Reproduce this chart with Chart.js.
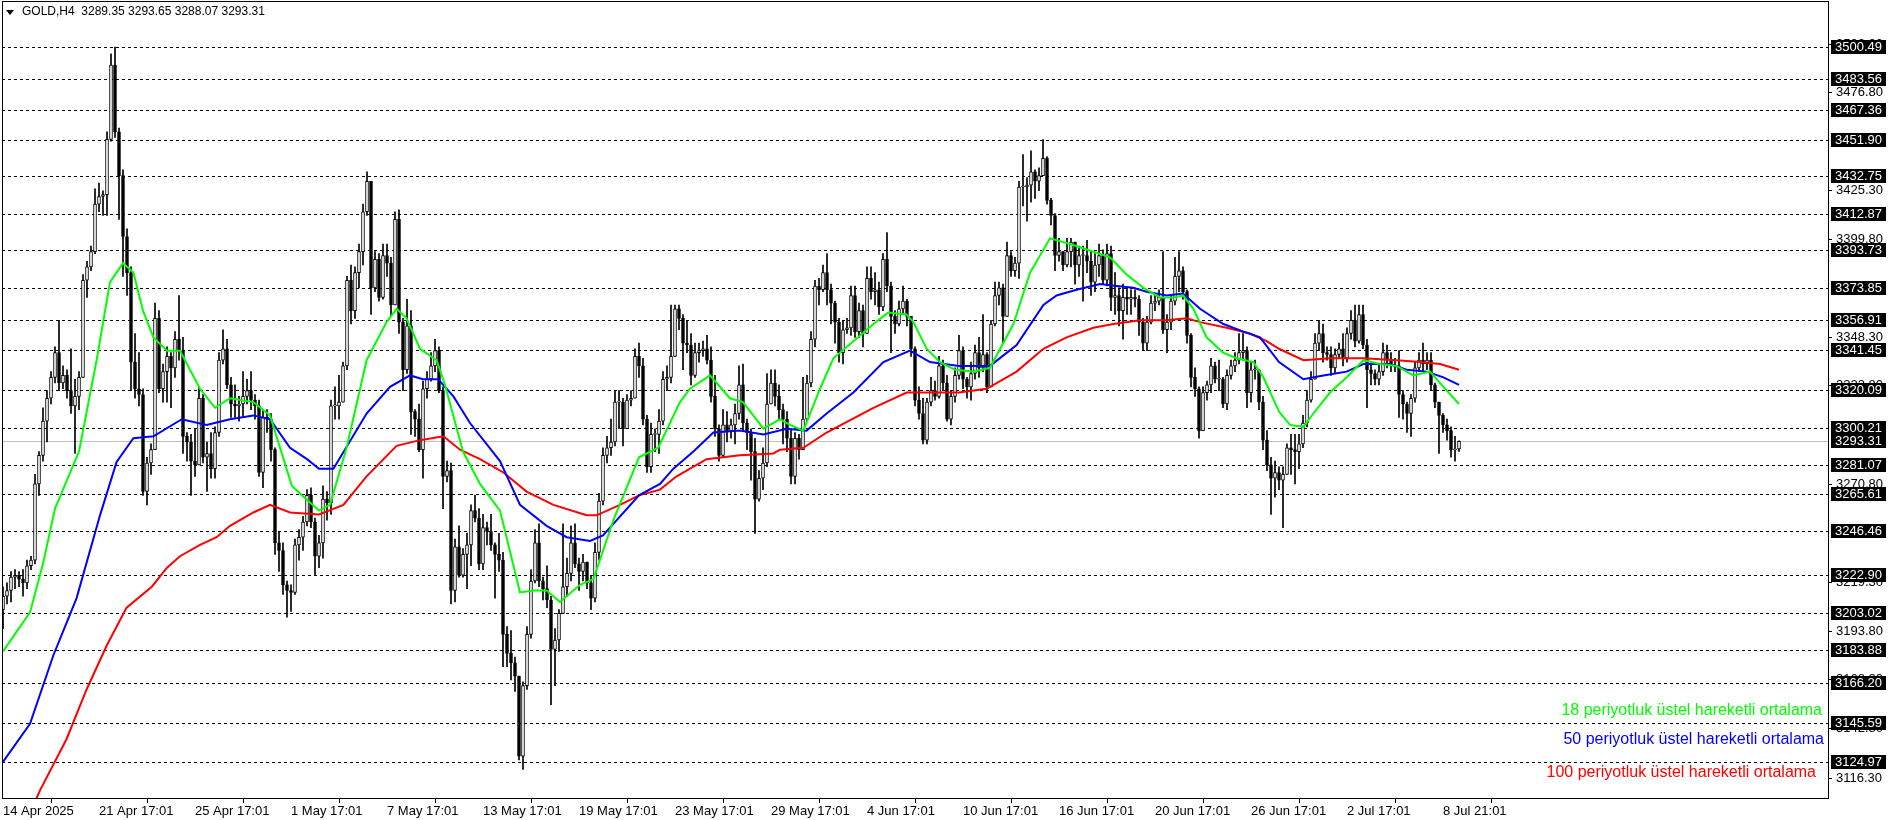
<!DOCTYPE html>
<html>
<head>
<meta charset="utf-8">
<script src="https://cdn.jsdelivr.net/npm/chart.js@4.4.1/dist/chart.umd.min.js"></script>
<style>
  html, body { margin: 0; padding: 0; background: #fff; }
  canvas { display: block; }
</style>
</head>
<body>
<canvas id="theChart" width="1896" height="820"></canvas>
<script>
// GOLD H4 candles (open = previous close)
const firstOpen = 3205;
const closes = [
  3212,3215,3222,3223,3221,3219,3228,3231,3271,3286,
  3304,3316,3327,3340,3324,3328,3320,3312,3317,3327,
  3378,3385,3393,3418,3422,3423,3452,3491,3456,3433,
  3401,3382,3335,3321,3318,3267,3282,3289,3358,3321,
  3330,3338,3332,3347,3341,3296,3293,3283,3281,3316,
  3285,3287,3279,3298,3336,3342,3323,3313,3312,3313,
  3317,3320,3315,3312,3277,3306,3305,3289,3240,3236,
  3218,3215,3214,3239,3243,3251,3265,3251,3233,3240,
  3263,3261,3312,3312,3314,3333,3378,3362,3382,3393,
  3414,3430,3374,3389,3369,3391,3387,3365,3410,3356,
  3331,3354,3309,3305,3289,3321,3326,3333,3341,3320,
  3275,3278,3215,3238,3223,3234,3239,3257,3253,3229,
  3248,3246,3239,3234,3231,3192,3182,3177,3170,3128,
  3165,3192,3220,3240,3220,3216,3210,3184,3189,3203,
  3217,3224,3240,3229,3225,3230,3219,3211,3235,3262,
  3286,3290,3293,3314,3314,3300,3315,3316,3338,3333,
  3305,3280,3297,3297,3304,3326,3327,3338,3363,3358,
  3345,3344,3328,3340,3341,3342,3336,3317,3300,3286,
  3302,3299,3302,3308,3323,3303,3298,3288,3263,3274,
  3282,3313,3324,3317,3310,3305,3295,3275,3295,3289,
  3305,3324,3347,3375,3373,3382,3373,3366,3356,3340,
  3352,3353,3370,3351,3362,3350,3379,3372,3373,3364,
  3389,3375,3359,3355,3363,3367,3359,3342,3315,3308,
  3294,3314,3320,3317,3333,3324,3305,3317,3328,3341,
  3326,3322,3329,3340,3332,3339,3322,3355,3370,3374,
  3359,3391,3383,3387,3427,3427,3428,3435,3430,3433,
  3442,3420,3412,3391,3393,3386,3393,3398,3386,3391,
  3391,3388,3377,3386,3391,3378,3392,3369,3370,3362,
  3369,3368,3369,3368,3356,3345,3356,3366,3367,3369,
  3352,3356,3367,3380,3383,3372,3349,3327,3321,3299,
  3319,3323,3333,3326,3326,3313,3328,3333,3336,3340,
  3341,3319,3331,3331,3314,3294,3281,3274,3277,3273,
  3276,3290,3289,3288,3292,3303,3315,3326,3345,3350,
  3340,3339,3332,3339,3342,3337,3350,3357,3346,3360,
  3344,3331,3329,3326,3330,3340,3336,3333,3333,3318,
  3313,3308,3316,3332,3336,3334,3336,3323,3314,3307,
  3302,3299,3289,3289.35,3293.31
];
const highs = [
  3217,3219,3225,3226,3225,3226,3231,3233,3276,3288,
  3311,3320,3330,3343,3357,3333,3331,3342,3326,3330,
  3381,3388,3396,3426,3429,3425,3456,3497,3500.5,3458,
  3436,3405,3385,3350,3340,3321,3285,3292,3366,3362,
  3334,3343,3340,3351,3370,3348,3298,3297,3300,3322,
  3318,3293,3298,3301,3340,3352,3347,3327,3323,3317,
  3330,3326,3330,3318,3315,3310,3310,3308,3290,3246,
  3240,3220,3218,3242,3247,3254,3268,3269,3253,3244,
  3270,3267,3315,3322,3328,3335,3380,3386,3385,3397,
  3418,3435,3427,3393,3392,3397,3397,3390,3414,3415,
  3358,3368,3362,3310,3313,3325,3330,3340,3347,3343,
  3322,3283,3282,3242,3249,3237,3245,3260,3265,3258,
  3255,3251,3255,3240,3245,3235,3196,3194,3180,3170,
  3167,3196,3226,3247,3250,3222,3228,3212,3195,3205,
  3250,3232,3249,3250,3232,3234,3230,3223,3240,3266,
  3290,3296,3305,3320,3320,3316,3318,3320,3342,3345,
  3337,3307,3303,3300,3310,3330,3333,3365,3365,3365,
  3360,3357,3350,3345,3345,3346,3349,3343,3328,3302,
  3310,3309,3305,3313,3333,3334,3305,3300,3295,3278,
  3290,3329,3331,3331,3323,3313,3309,3300,3298,3297,
  3327,3328,3351,3378,3379,3386,3392,3376,3367,3358,
  3357,3358,3375,3375,3366,3365,3385,3385,3382,3377,
  3392,3403,3377,3362,3367,3375,3368,3358,3343,3322,
  3316,3316,3327,3325,3338,3336,3328,3320,3332,3349,
  3343,3327,3335,3344,3348,3360,3340,3357,3377,3377,
  3376,3398,3393,3390,3430,3444,3432,3446,3436,3437,
  3451.9,3443,3421,3413,3400,3393,3400,3400,3394,3396,
  3396,3399,3393,3392,3397,3394,3397,3396,3382,3374,
  3376,3374,3373,3373,3370,3358,3359,3370,3370,3373,
  3393,3360,3370,3390,3393,3385,3373,3350,3332,3322,
  3322,3325,3337,3335,3336,3327,3331,3336,3340,3350,
  3350,3343,3335,3336,3331,3317,3299,3285,3283,3280,
  3280,3292,3297,3297,3297,3307,3320,3330,3350,3357,
  3355,3343,3343,3342,3345,3350,3353,3362,3365,3365,
  3365,3347,3334,3331,3334,3345,3344,3340,3337,3341,
  3320,3314,3318,3335,3340,3345,3340,3340,3324,3314,
  3308,3305,3301,3296,3293.65
];
const lows = [
  3195,3208,3209,3216,3217,3212,3216,3226,3229,3265,
  3283,3293,3313,3324,3320,3321,3316,3308,3287,3310,
  3328,3369,3383,3392,3414,3412,3412,3451,3453,3410,
  3380,3370,3320,3316,3312,3265,3260,3276,3289,3319,
  3314,3314,3311,3327,3336,3287,3283,3265,3275,3285,
  3282,3267,3274,3274,3296,3334,3321,3306,3306,3304,
  3306,3313,3310,3305,3275,3269,3298,3283,3234,3225,
  3213,3201,3204,3213,3231,3236,3249,3248,3223,3227,
  3232,3252,3255,3305,3305,3316,3331,3355,3358,3374,
  3386,3412,3360,3372,3367,3368,3380,3359,3366,3350,
  3320,3329,3297,3296,3288,3274,3316,3325,3330,3319,
  3258,3272,3208,3209,3222,3222,3216,3228,3251,3226,
  3226,3239,3236,3211,3225,3175,3175,3168,3162,3126,
  3121,3163,3190,3219,3217,3210,3206,3155,3165,3183,
  3206,3212,3220,3227,3215,3220,3216,3205,3209,3231,
  3260,3282,3286,3291,3300,3291,3301,3312,3318,3327,
  3302,3277,3277,3288,3287,3302,3320,3324,3338,3352,
  3331,3340,3323,3327,3335,3338,3334,3314,3296,3283,
  3285,3293,3295,3292,3305,3299,3289,3273,3245,3262,
  3268,3280,3316,3312,3305,3292,3288,3271,3271,3284,
  3297,3304,3322,3343,3365,3372,3365,3355,3345,3335,
  3334,3350,3349,3348,3348,3343,3350,3368,3365,3360,
  3362,3372,3340,3350,3354,3360,3354,3338,3312,3305,
  3292,3292,3312,3315,3316,3320,3304,3302,3314,3326,
  3321,3316,3315,3326,3327,3330,3319,3323,3354,3365,
  3345,3365,3380,3380,3379,3417,3409,3419,3421,3425,
  3435,3418,3407,3383,3388,3383,3385,3385,3376,3380,
  3367,3382,3370,3372,3380,3376,3375,3362,3360,3354,
  3347,3360,3360,3364,3349,3341,3341,3355,3362,3365,
  3350,3340,3352,3365,3372,3368,3345,3322,3317,3295,
  3299,3315,3319,3324,3320,3311,3310,3326,3330,3334,
  3336,3311,3314,3326,3310,3289,3278,3255,3264,3268,
  3248,3276,3276,3271,3279,3290,3301,3314,3327,3341,
  3335,3336,3328,3329,3337,3333,3335,3347,3343,3345,
  3342,3311,3323,3323,3323,3328,3332,3330,3330,3306,
  3305,3298,3296,3314,3330,3330,3331,3320,3311,3287,
  3298,3294,3285,3283,3288.07
];

// moving averages at bar positions
const ema18Bars = [0,6.75,10,13,19,23.4,26.75,30,32.6,35,37.6,41,44.25,49.25,53,56.75,62.6,66.75,72.2,74.7,79,81.75,85.9,90.9,95.9,98.4,100.9,104.25,108.4,110.5,115,119.25,124.25,129.25,132.6,135.9,139.25,144.25,147.6,152.6,159,163.8,169.25,171.75,176.75,181.75,185,190.1,194.25,196.75,200.1,204.25,207.6,212.6,217.6,221.3,225.9,227.6,230.9,234.25,238,242.6,246.75,252.6,256.75,261.75,266.75,272.6,276.75,280.9,285.1,289.25,292.6,295,297.6,300.9,305,308.4,312.6,315.1,319,321.75,325.1,327.6,331.75,335.9,340.1,344.25,348.4,352.6,356.75,360.1,364];
const ema18Vals = [3183,3203.5,3229,3258,3288,3336,3377,3387,3382,3362,3348,3341,3341,3321,3311,3316,3314,3307,3270,3265,3257,3260,3290,3336,3356,3363,3358,3342,3336,3323,3288,3271,3257,3214,3215,3215,3209,3218,3221,3252,3285,3290,3314,3321,3328,3316,3314,3300,3305,3302,3299,3321,3337,3346,3355,3361,3360,3356,3342,3335,3331,3330,3332,3355,3382,3400,3397,3393,3390,3381,3374,3369,3369,3370,3363,3348,3340,3337,3335,3327,3309,3302,3301,3308,3319,3327,3336,3334,3333,3328,3330,3322,3313];
const ema50Bars = [0,6.75,12.6,18.4,24.25,28.4,32.6,37.6,44.7,50.9,56.75,62.6,66.75,71.75,76,79,82.6,90.9,96.75,101.75,105,108.8,112.6,116.75,124.25,129.25,135.9,140.9,146.75,150,159,164.25,167.6,172.6,177.6,184.25,190.1,195.9,200.9,205.9,212.6,220.1,226.75,231.75,239,246.75,253.4,260.1,263.4,268.4,274.25,278.4,282.6,285.9,290.9,295,299.25,305.1,310.1,314.25,319,325.1,330.1,335.9,340.1,346.75,350.9,355.9,360.1,364];
const ema50Vals = [3125,3145,3181,3211,3254.5,3282.5,3295,3296,3305,3302,3305,3307,3305,3290,3284,3279,3279,3308,3322,3328,3326,3326,3317,3303,3283,3260,3249,3243,3241,3244,3265,3271,3279,3288,3298,3299,3297,3300,3299,3308,3319,3335,3341,3335,3333,3333,3344,3365,3370,3373,3376,3375,3374,3372,3370,3371,3363,3355,3351,3348,3335,3326,3328,3330,3334,3334,3331,3330,3327,3323];
const ema100Bars = [0,9.25,15.9,20.9,25.9,30.9,37.2,41,44.25,49.25,53.4,56.75,62.6,66.75,71.75,79,85.1,90.9,98.4,104.25,110.1,114.25,119.25,125.1,130.9,137.6,145.9,148.4,154.25,159,164.25,168.4,175.9,184.25,192.6,194.25,200.1,205.9,217.6,225.9,229.25,239,245.9,253.4,260.1,265.9,272.6,277.6,284.25,290.9,295.9,299.25,305.9,311.75,315.9,319,325.1,331.75,340.1,348.4,354.25,359.25,364];
const ema100Vals = [3066,3110,3137,3163,3186,3206,3217,3227,3233,3239,3243,3249,3256,3260,3256,3255,3260,3275,3291,3294,3296,3289,3284,3277,3267,3260,3254.5,3254.5,3260,3265,3268,3275,3284,3286,3287,3289,3290,3298,3311,3319,3319,3319,3321,3330,3342,3348,3353,3355,3357,3357,3358,3356,3353,3350,3346,3342,3336,3337,3337,3336,3335,3334,3331];

// time axis labels every 24 bars
const timeBars = [0,24,48,72,96,120,144,168,192,216,240,264,288,312,336,360];
const timeLabels = ["14 Apr 2025","21 Apr 17:01","25 Apr 17:01","1 May 17:01","7 May 17:01","13 May 17:01","19 May 17:01","23 May 17:01","29 May 17:01","4 Jun 17:01","10 Jun 17:01","16 Jun 17:01","20 Jun 17:01","26 Jun 17:01","2 Jul 17:01","8 Jul 21:01"];

// horizontal levels (dashed, labelled in black boxes) and plain price scale
const levels = [3500.49,3483.56,3467.36,3451.90,3432.75,3412.87,3393.73,3373.85,3356.91,3341.45,3320.09,3300.21,3281.07,3265.61,3246.46,3222.90,3203.02,3183.88,3166.20,3145.59,3124.97];
const scaleLabels = [3502.30,3476.80,3425.30,3399.80,3348.30,3322.80,3270.80,3219.30,3193.80,3168.30,3142.80,3116.30];
const lastPrice = 3293.31;

const legendNames = ["18 periyotluk üstel hareketli ortalama","50 periyotluk üstel hareketli ortalama","100 periyotluk üstel hareketli ortalama"];
const headerText = "GOLD,H4  3289.35 3293.65 3288.07 3293.31";

const COLORS = { ema18: "#00ff00", ema50: "#0000ff", ema100: "#ff0000" };
const FONT = "'Liberation Sans', 'DejaVu Sans', sans-serif";

const opens = closes.map((c, i) => (i === 0 ? firstOpen : closes[i - 1]));
const wickData = closes.map((c, i) => ({
  x: i,
  y: [Math.min(lows[i], opens[i], c), Math.max(highs[i], opens[i], c)],
}));
const bodyData = closes.map((c, i) => {
  const lo = Math.min(opens[i], c);
  const hi = Math.max(opens[i], c);
  return { x: i, y: [lo, Math.max(hi, lo + 0.5)] };
});
const bodyFill = closes.map((c, i) => (c >= opens[i] ? "#ffffff" : "#000000"));

function pts(bars, vals) {
  return bars.map((b, i) => ({ x: b, y: vals[i] }));
}

const overlay = {
  id: "overlay",
  beforeDatasetsDraw(chart) {
    const { ctx, chartArea: a, scales } = chart;
    const y = scales.y;
    ctx.save();
    ctx.lineWidth = 1;
    ctx.strokeStyle = "#000";
    ctx.setLineDash([3, 3]);
    levels.forEach((v) => {
      const py = Math.round(y.getPixelForValue(v)) + 0.5;
      ctx.beginPath();
      ctx.moveTo(a.left, py);
      ctx.lineTo(a.right, py);
      ctx.stroke();
    });
    ctx.setLineDash([]);
    ctx.strokeStyle = "#c0c0c0";
    const py = Math.round(y.getPixelForValue(lastPrice)) + 0.5;
    ctx.beginPath();
    ctx.moveTo(a.left, py);
    ctx.lineTo(a.right, py);
    ctx.stroke();
    ctx.restore();
  },
  afterDraw(chart) {
    const { ctx, chartArea: a, scales } = chart;
    const y = scales.y;
    ctx.save();
    // frame
    ctx.strokeStyle = "#000";
    ctx.lineWidth = 1;
    ctx.strokeRect(a.left + 0.5, a.top + 0.5, a.right - a.left, a.bottom - a.top);
    // header
    ctx.fillStyle = "#000";
    ctx.font = "12px " + FONT;
    ctx.textBaseline = "middle";
    ctx.beginPath();
    ctx.moveTo(6, 10); ctx.lineTo(14, 10); ctx.lineTo(10, 15); ctx.closePath();
    ctx.fill();
    ctx.fillText(headerText, 22, 12);
    // price scale
    ctx.font = "13px " + FONT;
    ctx.textAlign = "left";
    scaleLabels.forEach((v) => {
      const py = Math.round(y.getPixelForValue(v)) + 0.5;
      ctx.beginPath();
      ctx.moveTo(a.right, py); ctx.lineTo(a.right + 4, py); ctx.stroke();
      ctx.fillText(v.toFixed(2), a.right + 8, py);
    });
    levels.concat([lastPrice]).forEach((v) => {
      const py = Math.round(y.getPixelForValue(v));
      ctx.fillStyle = "#000";
      ctx.fillRect(a.right + 3, py - 7, 55, 14);
      ctx.fillStyle = "#fff";
      ctx.fillText(v.toFixed(2), a.right + 7, py);
    });
    // legend
    ctx.font = "16px " + FONT;
    ctx.textAlign = "right";
    const legendRight = [a.right - 6, a.right - 4, a.right - 12];
    const legendY = [711, 740, 773];
    [COLORS.ema18, COLORS.ema50, COLORS.ema100].forEach((c, i) => {
      ctx.fillStyle = c;
      ctx.fillText(legendNames[i], legendRight[i], legendY[i]);
    });
    ctx.restore();
  },
};

const config = {
  data: {
    datasets: [
      {
        type: "line",
        label: "EMA18",
        data: pts(ema18Bars, ema18Vals),
        borderColor: COLORS.ema18,
        borderWidth: 2,
        pointRadius: 0,
        tension: 0,
        order: 0,
      },
      {
        type: "line",
        label: "EMA50",
        data: pts(ema50Bars, ema50Vals),
        borderColor: COLORS.ema50,
        borderWidth: 2,
        pointRadius: 0,
        tension: 0,
        order: 0,
      },
      {
        type: "line",
        label: "EMA100",
        data: pts(ema100Bars, ema100Vals),
        borderColor: COLORS.ema100,
        borderWidth: 2,
        pointRadius: 0,
        tension: 0,
        order: 0,
      },
      {
        type: "bar",
        label: "body",
        data: bodyData,
        backgroundColor: bodyFill,
        borderColor: "#000",
        borderWidth: 1,
        borderSkipped: false,
        barThickness: 3,
        grouped: false,
        order: 1,
      },
      {
        type: "bar",
        label: "wick",
        data: wickData,
        backgroundColor: "#000",
        barThickness: 1,
        grouped: false,
        order: 2,
      },
    ],
  },
  options: {
    responsive: false,
    animation: false,
    devicePixelRatio: 1,
    layout: { padding: { left: 2, top: 1, right: 0, bottom: 0 } },
    plugins: { legend: { display: false }, tooltip: { enabled: false } },
    scales: {
      x: {
        type: "linear",
        offset: false,
        min: -0.25,
        max: 456.25,
        afterBuildTicks: (s) => { s.ticks = timeBars.map((v) => ({ value: v })); },
        afterFit: (s) => { s.height = 22; },
        border: { display: false },
        grid: { drawOnChartArea: false, drawTicks: true, tickLength: 5, color: "#000" },
        ticks: {
          autoSkip: false,
          maxRotation: 0,
          align: "start",
          padding: 1,
          color: "#000",
          font: { family: FONT, size: 13 },
          callback: (v) => timeLabels[timeBars.indexOf(v)] || "",
        },
      },
      y: {
        position: "right",
        min: 3106,
        max: 3524.7,
        afterFit: (s) => { s.width = 68; },
        border: { display: false },
        grid: { display: false },
        ticks: { display: false },
      },
    },
  },
  plugins: [overlay],
};

const theChart = new Chart(document.getElementById("theChart"), config);
</script>
</body>
</html>
